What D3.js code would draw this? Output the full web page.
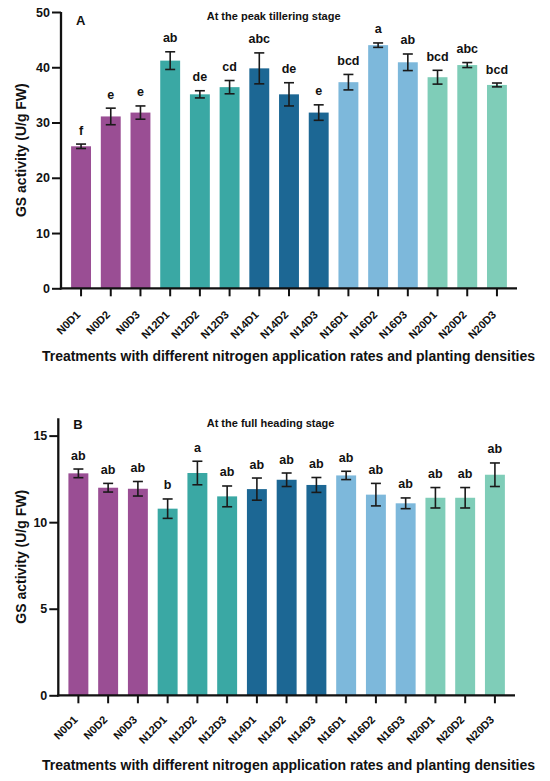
<!DOCTYPE html>
<html>
<head>
<meta charset="utf-8">
<script src="https://cdn.jsdelivr.net/npm/d3@7"></script>
<style>
  html, body { margin: 0; padding: 0; background: #fff; }
  svg { display: block; }
  text { font-family: "Liberation Sans", Arial, Helvetica, sans-serif; font-weight: bold; fill: #111; }
</style>
</head>
<body>
<svg id="chart" width="550" height="781"></svg>
<script>
// ---------- data ----------
const categories = ["N0D1","N0D2","N0D3","N12D1","N12D2","N12D3","N14D1","N14D2","N14D3",
                    "N16D1","N16D2","N16D3","N20D1","N20D2","N20D3"];
const groupColors = ["#9a4e94","#3aa8a4","#1c6794","#7db8db","#7fcdb8"];

// Panel A: peak tillering stage
const valuesA  = [25.7, 31.1, 31.8, 41.2, 35.1, 36.4, 39.8, 35.1, 31.8, 37.3, 44.0, 40.9, 38.2, 40.4, 36.8];
const errorsA  = [0.4, 1.5, 1.2, 1.6, 0.65, 1.2, 2.8, 2.1, 1.4, 1.4, 0.4, 1.5, 1.25, 0.45, 0.35];
const lettersA = ["f","e","e","ab","de","cd","abc","de","e","bcd","a","ab","bcd","abc","bcd"];
const ticksA   = [0, 10, 20, 30, 40, 50];

// Panel B: full heading stage
const valuesB  = [12.82, 11.99, 11.93, 10.78, 12.84, 11.49, 11.91, 12.45, 12.15, 12.70, 11.59, 11.09, 11.41, 11.41, 12.74];
const errorsB  = [0.25, 0.25, 0.42, 0.56, 0.68, 0.6, 0.64, 0.39, 0.43, 0.24, 0.65, 0.31, 0.59, 0.59, 0.68];
const lettersB = ["ab","ab","ab","b","a","ab","ab","ab","ab","ab","ab","ab","ab","ab","ab"];
const ticksB   = [0, 5, 10, 15];

const yTitle = "GS activity (U/g FW)";
const xTitle = "Treatments with different nitrogen application rates and planting densities";

const panels = [
  { label: "A", title: "At the peak tillering stage", values: valuesA, errors: errorsA, letters: lettersA,
    ticks: ticksA, yMax: 50, x0: 61, x1: 517, yZero: 288.3, yTop: 12,
    labelY: 24.5, titleY: 19.5, xTitleY: 361, tickLabelOff: 27 },
  { label: "B", title: "At the full heading stage", values: valuesB, errors: errorsB, letters: lettersB,
    ticks: ticksB, yMax: 16, x0: 58.3, x1: 515, yZero: 695.3, yTop: 418.3,
    labelY: 429, titleY: 427, xTitleY: 770, tickLabelOff: 25 }
];

const svg = d3.select("#chart");
svg.append("rect").attr("width", 550).attr("height", 781).attr("fill", "#fff");

panels.forEach(p => {
  const g = svg.append("g");
  const x = d3.scaleBand().domain(categories).range([p.x0, p.x1]).paddingInner(0.33).paddingOuter(0.34);
  const y = d3.scaleLinear().domain([0, p.yMax]).range([p.yZero, p.yTop]);

  // bars
  g.selectAll("rect.bar").data(categories).enter().append("rect")
    .attr("class", "bar")
    .attr("x", d => x(d))
    .attr("width", x.bandwidth())
    .attr("y", (d, i) => y(p.values[i]))
    .attr("height", (d, i) => y(0) - y(p.values[i]))
    .attr("fill", (d, i) => groupColors[Math.floor(i / 3)]);

  // error bars
  const capW = 10;
  const eb = g.selectAll("g.err").data(categories).enter().append("g").attr("class", "err")
    .attr("stroke", "#1a1a1a").attr("stroke-width", 1.6).attr("fill", "none");
  eb.append("line")
    .attr("x1", d => x(d) + x.bandwidth() / 2).attr("x2", d => x(d) + x.bandwidth() / 2)
    .attr("y1", (d, i) => y(p.values[i] - p.errors[i])).attr("y2", (d, i) => y(p.values[i] + p.errors[i]));
  eb.append("line")
    .attr("x1", d => x(d) + x.bandwidth() / 2 - capW / 2).attr("x2", d => x(d) + x.bandwidth() / 2 + capW / 2)
    .attr("y1", (d, i) => y(p.values[i] + p.errors[i])).attr("y2", (d, i) => y(p.values[i] + p.errors[i]));
  eb.append("line")
    .attr("x1", d => x(d) + x.bandwidth() / 2 - capW / 2).attr("x2", d => x(d) + x.bandwidth() / 2 + capW / 2)
    .attr("y1", (d, i) => y(p.values[i] - p.errors[i])).attr("y2", (d, i) => y(p.values[i] - p.errors[i]));

  // significance letters
  g.selectAll("text.sig").data(categories).enter().append("text")
    .attr("class", "sig")
    .attr("x", d => x(d) + x.bandwidth() / 2)
    .attr("y", (d, i) => y(p.values[i] + p.errors[i]) - 9.5)
    .attr("text-anchor", "middle")
    .attr("font-size", 12.5)
    .text((d, i) => p.letters[i]);

  // y axis
  const yAxis = g.append("g").attr("transform", `translate(${p.x0},0)`)
    .call(d3.axisLeft(y).tickValues(p.ticks).tickSize(9).tickPadding(2).tickFormat(d3.format("d")));
  yAxis.select(".domain").remove();
  yAxis.selectAll(".tick line").attr("stroke", "#111").attr("stroke-width", 2);
  yAxis.selectAll(".tick text").attr("font-size", 12.5).attr("font-weight", "bold")
    .attr("font-family", "'Liberation Sans', Arial, sans-serif").attr("fill", "#111");
  g.append("line").attr("x1", p.x0).attr("x2", p.x0).attr("y1", y(0) + 1.1).attr("y2", y(p.yMax))
    .attr("stroke", "#111").attr("stroke-width", 2.3);

  // x axis
  const xAxis = g.append("g").attr("transform", `translate(0,${p.yZero})`)
    .call(d3.axisBottom(x).tickSize(8).tickSizeOuter(0));
  xAxis.select(".domain").remove();
  xAxis.selectAll(".tick line").attr("stroke", "#111").attr("stroke-width", 2);
  xAxis.selectAll(".tick text")
    .attr("font-size", 11).attr("font-weight", "bold")
    .attr("font-family", "'Liberation Sans', Arial, sans-serif").attr("fill", "#111")
    .attr("text-anchor", "end").attr("y", 0).attr("dy", 0)
    .attr("transform", `translate(0,${p.tickLabelOff}) rotate(-45)`);
  g.append("line").attr("x1", p.x0 - 1.1).attr("x2", p.x1).attr("y1", p.yZero).attr("y2", p.yZero)
    .attr("stroke", "#111").attr("stroke-width", 2.3);

  // panel label and title
  g.append("text").attr("x", p.x0 + 15).attr("y", p.labelY).attr("font-size", 13).text(p.label);
  g.append("text").attr("x", 206.7).attr("y", p.titleY).attr("font-size", 11).text(p.title);

  // axis titles
  g.append("text")
    .attr("transform", `translate(26,${(p.yZero + p.yTop) / 2}) rotate(-90)`)
    .attr("text-anchor", "middle").attr("font-size", 14).text(yTitle);
  g.append("text").attr("x", 288.5).attr("y", p.xTitleY).attr("text-anchor", "middle")
    .attr("font-size", 14).text(xTitle);
});
</script>
</body>
</html>
